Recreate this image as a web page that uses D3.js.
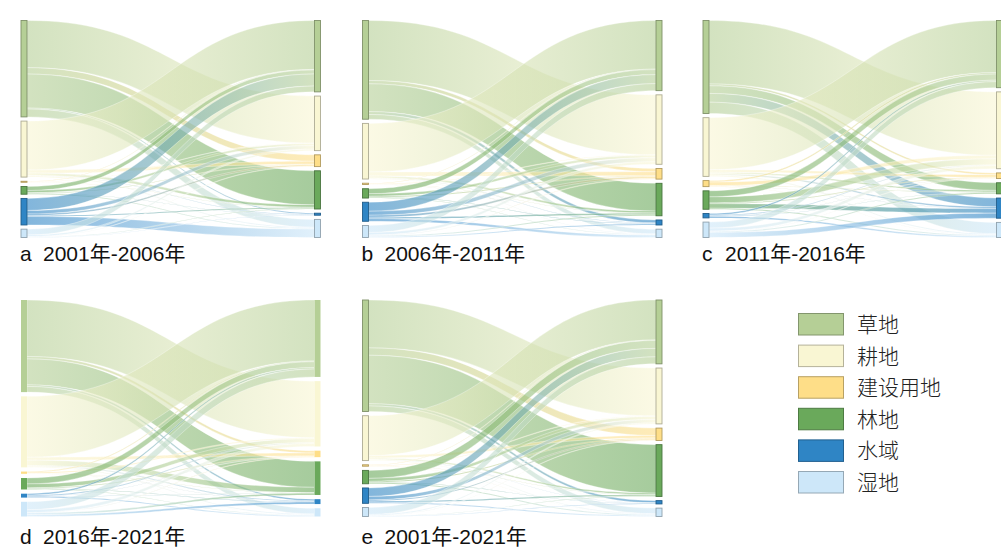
<!DOCTYPE html>
<html>
<head>
<meta charset="utf-8">
<script src="https://cdn.jsdelivr.net/npm/d3@7"></script>
<style>
  body { margin: 0; background: #fff; }
  svg { display: block; }
</style>
</head>
<body>
<div id="chart"></div>
<script>
// land use classes in node order, top to bottom
const landTypes = ['草地', '耕地', '建设用地', '林地', '水域', '湿地'];
const typeColors = ['#b5cf96', '#f9f6d3', '#fede88', '#6aa95b', '#2f85c5', '#cde7f9'];

const panelLetters = ['a', 'b', 'c', 'd', 'e'];
const periodLabels = ['2001年-2006年', '2006年-2011年', '2011年-2016年', '2016年-2021年', '2001年-2021年'];

// transfer matrices: row = from, column = to (unchanged area left out)
const flows2001_2006 = [
  [0, 46.9, 6.4, 33.8, 1.0, 7.8],
  [48.7, 0, 3.0, 2.5, 0.5, 1.0],
  [0.5, 0.2, 0, 0.2, 0, 0.1],
  [4.0, 2.2, 0.5, 0, 0.3, 0.7],
  [12.0, 3.5, 1.5, 1.0, 0, 8.4],
  [5.8, 1.5, 0.3, 0.5, 0.2, 0]
];
const flows2006_2011 = [
  [0, 59.9, 3.3, 27.7, 2.9, 4.7],
  [48.5, 0, 4.0, 2.0, 0.5, 0.5],
  [0.5, 0.4, 0, 0.2, 0.1, 0.1],
  [5.0, 2.5, 0.8, 0, 0.5, 0.5],
  [9.0, 4.0, 2.0, 1.5, 0, 2.5],
  [7.0, 2.5, 0.5, 1.0, 1.0, 0]
];
const flows2011_2016 = [
  [0, 63.0, 1.8, 7.6, 8.7, 11.2],
  [51.7, 0, 2.5, 1.5, 1.5, 1.1],
  [1.5, 3.5, 0, 0.5, 0.3, 0.2],
  [6.0, 6.0, 0.8, 0, 4.5, 1.0],
  [1.5, 0.8, 0.2, 0.4, 0, 1.5],
  [6.0, 3.0, 0.3, 1.0, 5.0, 0]
];
const flows2016_2021 = [
  [0, 57.7, 2.4, 26.5, 1.6, 5.8],
  [62.2, 0, 3.0, 5.5, 0.8, 1.0],
  [0.8, 1.0, 0, 0.3, 0.1, 0.1],
  [6.0, 4.0, 0.7, 0, 0.5, 0.5],
  [1.5, 1.0, 0.2, 0.3, 0, 1.0],
  [8.0, 3.0, 0.3, 1.7, 2.0, 0]
];
const flows2001_2021 = [
  [0, 48.0, 7.4, 48.6, 2.2, 5.6],
  [40.0, 0, 2.5, 1.5, 0.3, 0.7],
  [0.5, 0.5, 0, 0.2, 0.1, 0.1],
  [8.0, 3.0, 1.0, 0, 0.4, 1.0],
  [8.5, 3.5, 1.2, 1.2, 0, 1.0],
  [7.0, 1.0, 0.3, 0.4, 0.3, 0]
];
const allFlows = [flows2001_2006, flows2006_2011, flows2011_2016, flows2016_2021, flows2001_2021];

// where each panel sits
const panelBoxes = [
  { left: 21, right: 320.5, top: 20.5, bottom: 237.5, outline: true },
  { left: 362.5, right: 662, top: 20.5, bottom: 237.5, outline: true },
  { left: 703, right: 1002.5, top: 20.5, bottom: 237.5, outline: true },
  { left: 21, right: 320.5, top: 300, bottom: 516.5, outline: false },
  { left: 362.5, right: 662, top: 300, bottom: 516.5, outline: true }
];
const labelBaselines = [261, 261, 261, 543.5, 543.5];

const nodeW = 6;
const nodePad = 4.2;
const linkOpacity = 0.6;

const svg = d3.select('#chart').append('svg')
  .attr('width', 1001)
  .attr('height', 553);
svg.append('rect').attr('width', 1001).attr('height', 553).attr('fill', '#fff');
const defs = svg.append('defs');

allFlows.forEach((matrix, p) => {
  const box = panelBoxes[p];
  const g = svg.append('g');

  const outSum = matrix.map(row => d3.sum(row));
  const inSum = landTypes.map((_, j) => d3.sum(matrix, row => row[j]));
  const total = Math.max(d3.sum(outSum), d3.sum(inSum));

  const ky = d3.scaleLinear()
    .domain([0, total])
    .range([0, box.bottom - box.top - nodePad * (landTypes.length - 1)]);

  const stack = sums => {
    let acc = 0;
    return sums.map((v, i) => {
      const y0 = box.top + ky(acc) + i * nodePad;
      acc += v;
      return { y0, y1: y0 + ky(v) };
    });
  };
  const leftNodes = stack(outSum);
  const rightNodes = stack(inSum);

  const xa = box.left + nodeW;
  const xb = box.right - nodeW;
  const xm = (xa + xb) / 2;

  // outgoing links sorted by target, incoming by source
  const srcY = leftNodes.map(n => n.y0);
  const tgtY = rightNodes.map(n => n.y0);
  const links = [];
  matrix.forEach((row, i) => row.forEach((v, j) => {
    if (!v) return;
    const h = ky(v);
    links.push({ i, j, s0: srcY[i], s1: srcY[i] + h, t0: tgtY[j], t1: tgtY[j] + h });
    srcY[i] += h;
    tgtY[j] += h;
  }));

  links.forEach((d, k) => {
    const id = `grad-${p}-${k}`;
    const grad = defs.append('linearGradient')
      .attr('id', id)
      .attr('gradientUnits', 'userSpaceOnUse')
      .attr('x1', xa).attr('x2', xb)
      .attr('y1', 0).attr('y2', 0);
    grad.append('stop').attr('offset', '0%').attr('stop-color', typeColors[d.i]);
    grad.append('stop').attr('offset', '100%').attr('stop-color', typeColors[d.j]);
    d.grad = id;
  });

  const linkPath = d => {
    const path = d3.path();
    path.moveTo(xa, d.s0);
    path.bezierCurveTo(xm, d.s0, xm, d.t0, xb, d.t0);
    path.lineTo(xb, d.t1);
    path.bezierCurveTo(xm, d.t1, xm, d.s1, xa, d.s1);
    path.closePath();
    return path.toString();
  };

  g.selectAll('.link')
    .data(links)
    .enter().append('path')
    .attr('class', 'link')
    .attr('d', linkPath)
    .attr('fill', d => `url(#${d.grad})`)
    .attr('fill-opacity', linkOpacity)
    .attr('stroke', '#fff')
    .attr('stroke-opacity', 0.55)
    .attr('stroke-width', 0.6);

  const drawNodes = (nodes, x) => {
    g.selectAll(null)
      .data(nodes)
      .enter().append('rect')
      .attr('x', x)
      .attr('y', d => d.y0)
      .attr('width', nodeW)
      .attr('height', d => Math.max(0.8, d.y1 - d.y0))
      .attr('fill', (d, i) => typeColors[i])
      .attr('stroke', (d, i) => box.outline ? d3.color(typeColors[i]).darker(1).formatHex() : 'none')
      .attr('stroke-width', 0.9);
  };
  drawNodes(leftNodes, box.left);
  drawNodes(rightNodes, box.right - nodeW);

  g.append('text')
    .attr('x', box.left - 1)
    .attr('y', labelBaselines[p])
    .attr('font-family', '"Liberation Sans", Arial, sans-serif')
    .attr('font-size', 21)
    .attr('fill', '#111')
    .text(panelLetters[p]);
  g.append('text')
    .attr('x', box.left + 22)
    .attr('y', labelBaselines[p])
    .attr('font-family', '"Liberation Sans", Arial, "Noto Sans CJK SC", sans-serif')
    .attr('font-size', 21)
    .attr('fill', '#111')
    .text(periodLabels[p]);
});

// legend
const legend = svg.append('g').attr('transform', 'translate(798.5,313.5)');
const legendY = d3.scaleBand().domain(landTypes).range([0, 31.6 * landTypes.length]).paddingInner(0);

legend.selectAll('rect')
  .data(landTypes)
  .enter().append('rect')
  .attr('x', 0)
  .attr('y', d => legendY(d))
  .attr('width', 45)
  .attr('height', 21.5)
  .attr('fill', (d, i) => typeColors[i])
  .attr('stroke', (d, i) => d3.color(typeColors[i]).darker(0.9).formatHex())
  .attr('stroke-width', 1);

legend.selectAll('text')
  .data(landTypes)
  .enter().append('text')
  .attr('x', 58.5)
  .attr('y', d => legendY(d) + 18.5)
  .attr('font-family', '"Noto Sans CJK SC", sans-serif')
  .attr('font-weight', 300)
  .attr('font-size', 21)
  .attr('fill', '#222')
  .text(d => d);
</script>
</body>
</html>
